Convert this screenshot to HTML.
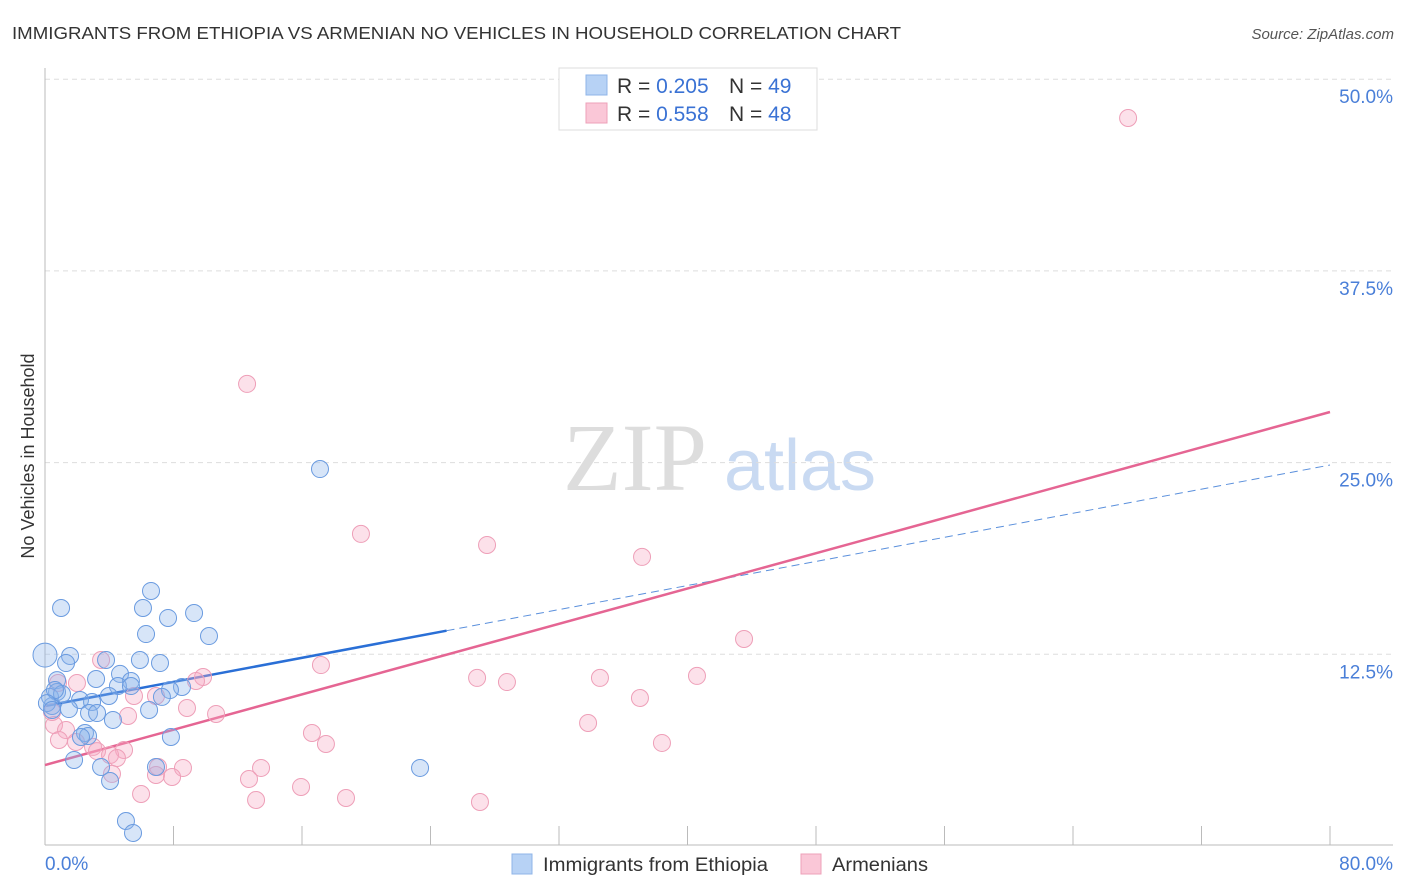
<!DOCTYPE html>
<html><head><meta charset="utf-8"><style>
body{margin:0;background:#fff;font-family:"Liberation Sans",sans-serif;}
#wrap{position:relative;width:1406px;height:892px;overflow:hidden;}
</style></head><body>
<div id="wrap">
<svg id="svg" width="1406" height="892" xmlns="http://www.w3.org/2000/svg">
<text x="12" y="39" font-size="17.5" fill="#333" textLength="889" lengthAdjust="spacingAndGlyphs">IMMIGRANTS FROM ETHIOPIA VS ARMENIAN NO VEHICLES IN HOUSEHOLD CORRELATION CHART</text>
<text x="1394" y="39" font-size="15" fill="#555" font-style="italic" text-anchor="end">Source: ZipAtlas.com</text>
<text x="34" y="456" font-size="18" fill="#333" text-anchor="middle" transform="rotate(-90 34 456)">No Vehicles in Household</text>
<g><text x="635" y="490" font-size="96" font-family="Liberation Serif,serif" fill="#ddd" text-anchor="middle">ZIP</text><text x="800" y="490" font-size="72" fill="#c9daf2" text-anchor="middle">atlas</text></g>
<g id="grid"></g><g id="axes"></g><g id="lines"></g><g id="pts"></g>
<g>
<rect x="559" y="68" width="258" height="62" fill="#fff" stroke="#ddd"/>
<rect x="586" y="75" width="21" height="20" fill="#b7d2f5" stroke="#8fb4e8"/>
<rect x="586" y="103" width="21" height="20" fill="#fac7d7" stroke="#eea0b8"/>
<text x="617" y="93" font-size="21" fill="#333">R = <tspan fill="#3a72d4">0.205</tspan><tspan x="729">N = </tspan><tspan fill="#3a72d4">49</tspan></text>
<text x="617" y="121" font-size="21" fill="#333">R = <tspan fill="#3a72d4">0.558</tspan><tspan x="729">N = </tspan><tspan fill="#3a72d4">48</tspan></text>
</g>
<g>
<rect x="512" y="854" width="20" height="20" fill="#b7d2f5" stroke="#8fb4e8"/>
<text x="543" y="871" font-size="19" fill="#333" textLength="225" lengthAdjust="spacingAndGlyphs">Immigrants from Ethiopia</text>
<rect x="801" y="854" width="20" height="20" fill="#fac7d7" stroke="#eea0b8"/>
<text x="832" y="871" font-size="19" fill="#333" textLength="96" lengthAdjust="spacingAndGlyphs">Armenians</text>
</g>
</svg>
</div>
<script>
const blueX=[1.00,6.10,6.60,7.66,9.28,6.29,10.21,0,1.56,1.31,3.80,5.91,7.16,4.67,5.35,3.18,0.75,4.54,5.35,8.53,7.78,7.28,3.98,0.75,2.18,0.44,2.93,1.49,2.74,3.24,6.48,4.23,2.49,2.68,2.24,7.84,1.81,3.49,6.91,4.05,23.35,5.04,5.48,17.12,0.31,1.06,0.62,0.12,0.44];
const blueY=[15.52,15.52,16.63,14.87,15.19,13.82,13.69,12.45,12.39,11.93,12.13,12.13,11.93,11.22,10.76,10.89,10.82,10.43,10.43,10.37,10.17,9.72,9.78,10.04,9.52,9.13,9.39,8.93,8.67,8.67,8.87,8.22,7.37,7.17,7.11,7.11,5.61,5.15,5.15,4.24,5.09,1.63,0.85,24.58,9.72,9.91,10.17,9.32,8.87];
const pinkX=[67.43,12.58,19.67,27.52,37.17,43.52,3.49,17.18,9.84,40.59,26.90,28.76,34.55,0.81,1.99,9.40,5.54,6.91,37.04,8.84,5.17,10.65,33.81,0.56,1.31,16.62,0.87,1.93,17.49,38.41,2.99,4.92,3.24,4.05,4.48,7.04,8.59,13.45,6.91,4.17,7.91,12.70,15.94,5.98,18.74,13.14,27.08,0.44];
const pinkY=[47.47,30.13,20.35,19.63,18.85,13.50,12.13,11.80,11.02,11.09,10.96,10.69,10.96,10.63,10.63,10.76,9.78,9.78,9.65,9.00,8.48,8.61,8.02,7.89,7.56,7.37,6.91,6.78,6.65,6.72,6.46,6.26,6.19,5.93,5.74,5.15,5.09,5.09,4.63,4.70,4.50,4.37,3.85,3.39,3.13,3.00,2.87,8.74];
const blueTrend=[9.13,24.84];
const pinkTrend=[5.28,28.3];
const yTicks=[12.5,25,37.5,50];
const yTickLabels=["12.5%","25.0%","37.5%","50.0%"];
const xTicks=[0,8,16,24,32,40,48,56,64,72,80];
const NS="http://www.w3.org/2000/svg";
const X=v=>45+v/80*1285, Y=v=>846-v/12.5*191.7;
function mk(p,t,a){const e=document.createElementNS(NS,t);for(const k in a)e.setAttribute(k,a[k]);document.getElementById(p).appendChild(e);return e;}
yTicks.forEach((t,i)=>{
 const g=mk('grid','line',{x1:45,x2:1393,y1:Y(t),y2:Y(t),stroke:'#ddd','stroke-dasharray':'5,4'});
 
 
 const l=mk('grid','text',{x:1393,y:Y(t)+24,'font-size':19,fill:'#4a7fd8','text-anchor':'end'});l.textContent=yTickLabels[i];
 
 
});
let a=mk('axes','line',{x1:45,x2:45,y1:68,y2:845,stroke:'#bbb'});


a=mk('axes','line',{x1:45,x2:1393,y1:845,y2:845,stroke:'#bbb'});


xTicks.forEach(t=>{const e=mk('axes','line',{x1:X(t),x2:X(t),y1:826,y2:845,stroke:'#bbb'});
 
 });
let t0=mk('axes','text',{x:45,y:870,'font-size':19,fill:'#4a7fd8'});t0.textContent='0.0%';


let t1=mk('axes','text',{x:1393,y:870,'font-size':19,fill:'#4a7fd8','text-anchor':'end'});t1.textContent='80.0%';


function pts(xs,ys,fill,stroke,name){xs.forEach((x,i)=>{const c=mk('pts','circle',{cx:X(x),cy:Y(ys[i]),r:i==7&&name=='ethiopia-point'?12:8.5,fill:fill,stroke:stroke,'stroke-width':1});
 
 });}
pts(pinkX,pinkY,'rgba(246,170,196,0.35)','#ee9fb8','armenian-point');
pts(blueX,blueY,'rgba(140,180,235,0.35)','#6a9be0','ethiopia-point');
const bx=25;
let L=mk('lines','line',{x1:X(0),y1:Y(blueTrend[0]),x2:X(bx),y2:Y(blueTrend[0]+(blueTrend[1]-blueTrend[0])*bx/80),stroke:'#2a6fd6','stroke-width':2.5});


L=mk('lines','line',{x1:X(bx),y1:Y(blueTrend[0]+(blueTrend[1]-blueTrend[0])*bx/80),x2:X(80),y2:Y(blueTrend[1]),stroke:'#5b90dc','stroke-width':1,'stroke-dasharray':'8,5'});


L=mk('lines','line',{x1:X(0),y1:Y(pinkTrend[0]),x2:X(80),y2:Y(pinkTrend[1]),stroke:'#e56593','stroke-width':2.5});


</script>
</body></html>
